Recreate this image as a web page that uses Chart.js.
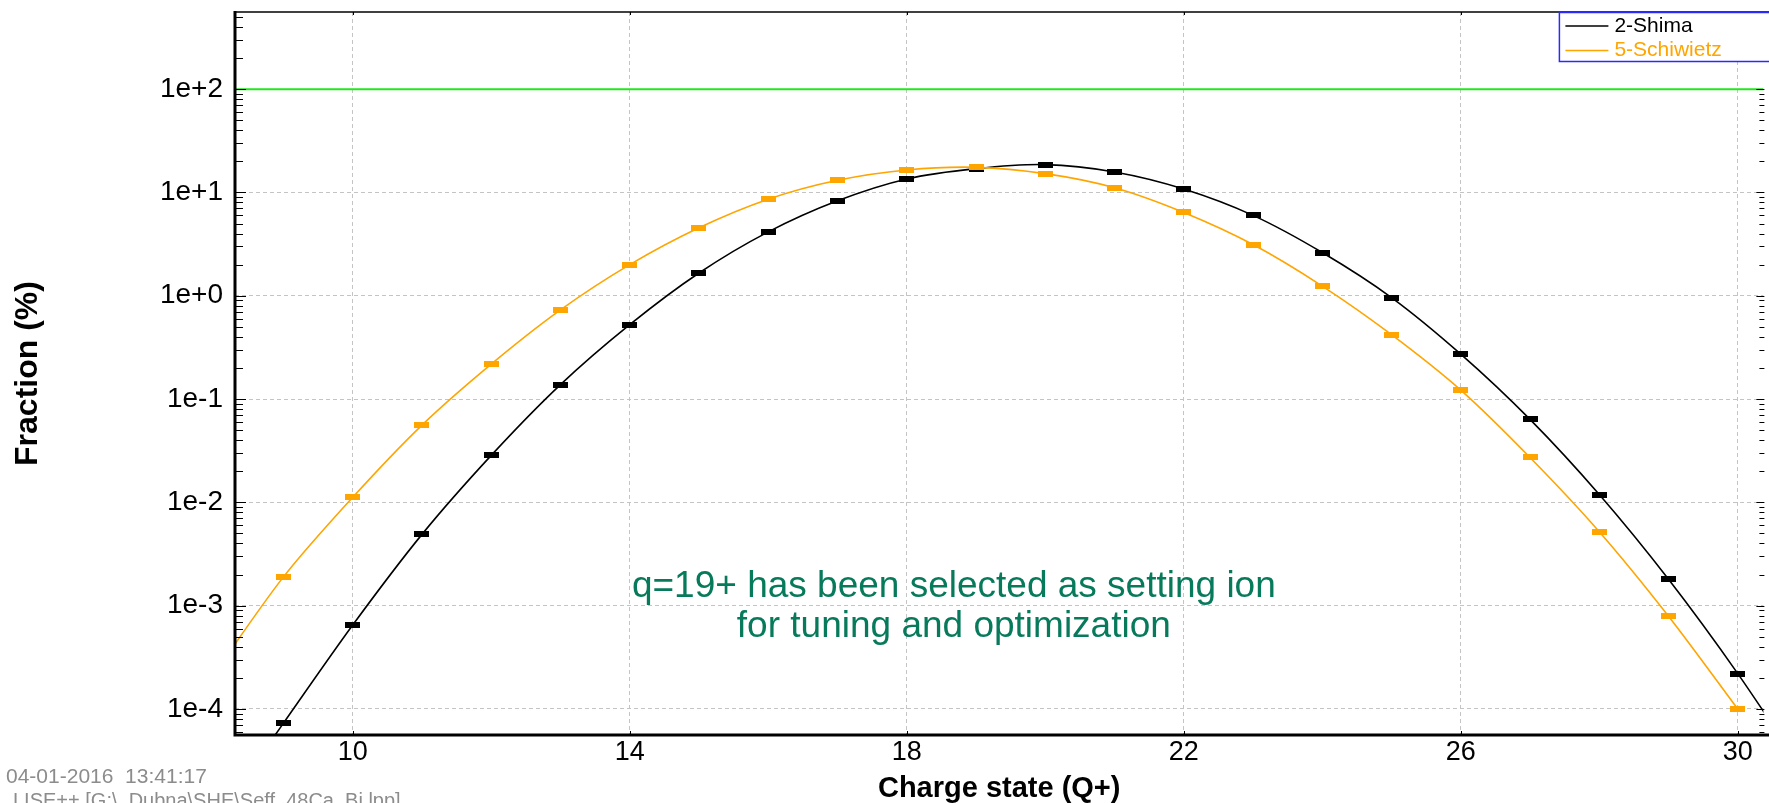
<!DOCTYPE html>
<html>
<head>
<meta charset="utf-8">
<title>Charge state distribution</title>
<script src="https://cdn.jsdelivr.net/npm/chart.js@4.4.1/dist/chart.umd.min.js"></script>
<style>
  html, body { margin: 0; padding: 0; background: #fff; }
  #wrap { position: relative; width: 1769px; height: 803px; }
</style>
</head>
<body>
<div id="wrap"><canvas id="chart"></canvas></div>
<script>
/* ---- data -------------------------------------------------------- */
const chargeStates      = [8, 9, 10, 11, 12, 13, 14, 15, 16, 17, 18, 19,
                           20, 21, 22, 23, 24, 25, 26, 27, 28, 29, 30, 31];
const shimaFraction     = [8e-6, 7.3e-5, 6.5e-4, 4.9e-3, 2.85e-2, 0.138, 0.525, 1.66,
                           4.15, 8.3, 13.5, 17.0, 18.6, 15.8, 10.8, 6.0,
                           2.62, 0.96, 0.272, 0.0635, 0.0119, 1.8e-3, 2.2e-4, 2.2e-5];
const schiwietzFraction = [2.2e-4, 1.9e-3, 1.12e-2, 0.056, 0.218, 0.73, 2.0, 4.55,
                           8.6, 13.1, 16.5, 17.5, 15.2, 11.1, 6.4, 3.13,
                           1.24, 0.42, 0.122, 0.0272, 5.2e-3, 7.9e-4, 1.0e-4, null];
const seriesNames       = ["2-Shima", "5-Schiwietz"];
const referenceLevel    = 100;

const xTickValues = [10, 14, 18, 22, 26, 30];
const yTickValues = [1e-4, 1e-3, 1e-2, 1e-1, 1e0, 1e1, 1e2];
const yTickLabels = ["1e-4", "1e-3", "1e-2", "1e-1", "1e+0", "1e+1", "1e+2"];

const noteLines  = ["q=19+ has been selected as setting ion", "for tuning and optimization"];
const noteAnchor = { q: 18.68, fraction: 1.22e-3 };
const stampLines = ["04-01-2016  13:41:17", "LISE++ [G:\\_Dubna\\SHE\\Seff_48Ca_Bi.lpp]"];

/* ---- look --------------------------------------------------------- */
const FONT     = "'Liberation Sans', Arial, sans-serif";
const C_SHIMA  = "#000000";
const C_SCHIW  = "#ffa500";
const C_LEVEL  = "#22e622";
const C_GRID   = "#c4c4c4";
const C_NOTE   = "#087a5c";
const X_MIN = 8.30, X_MAX = 30.37;
const Y_MIN = 5.6e-5, Y_MAX = 558;

/* flat rectangular markers like the original program draws */
function marker(color) {
  const c = document.createElement("canvas");
  c.width = 15; c.height = 6;
  const g = c.getContext("2d");
  g.fillStyle = color;
  g.fillRect(0, 0, 15, 6);
  return c;
}

function points(values) {
  return chargeStates.map((q, i) => ({ x: q, y: values[i] }));
}

/* ---- frame, inner ticks, legend box and notes --------------------- */
const decorPlugin = {
  id: "decor",
  afterDatasetsDraw(chart) {
    const { ctx, chartArea: a, scales: { x, y } } = chart;
    ctx.save();
    ctx.strokeStyle = "#000";
    ctx.lineWidth = 1;
    ctx.beginPath();
    for (let d = -5; d <= 2; d++) {
      for (let m = 1; m <= 9; m++) {
        const v = m * Math.pow(10, d);
        if (v < Y_MIN || v > Y_MAX) continue;
        const py = Math.round(y.getPixelForValue(v)) + 0.5;
        ctx.moveTo(a.left, py);  ctx.lineTo(a.left + (m === 1 ? 11 : 8), py);
        ctx.moveTo(a.right + 1, py); ctx.lineTo(a.right + 1 - (m === 1 ? 8 : 5), py);
      }
    }
    xTickValues.forEach((v) => {
      const px = Math.round(x.getPixelForValue(v)) + 0.5;
      ctx.moveTo(px, a.top);    ctx.lineTo(px, a.top + 3);
      ctx.moveTo(px, a.bottom); ctx.lineTo(px, a.bottom - 4);
    });
    ctx.stroke();

    ctx.lineWidth = 1.6;
    ctx.beginPath();
    ctx.moveTo(a.left, a.top); ctx.lineTo(chart.width, a.top);
    ctx.stroke();

    ctx.lineWidth = 3;
    ctx.beginPath();
    ctx.moveTo(a.left, a.top - 1); ctx.lineTo(a.left, a.bottom);
    ctx.lineTo(chart.width, a.bottom);
    ctx.stroke();
    ctx.restore();
  },
  afterDraw(chart) {
    const { ctx, chartArea: a, scales: { x, y } } = chart;
    ctx.save();

    /* legend box, top right, cut by the right edge like the original */
    const bx = a.right - 204, by = a.top + 0.5, bh = 49;
    ctx.fillStyle = "#fff";
    ctx.fillRect(bx, by, 220, bh);
    ctx.strokeStyle = "#2a2aff";
    ctx.lineWidth = 1.5;
    ctx.strokeRect(bx, by, 220, bh);
    ctx.font = `21px ${FONT}`;
    ctx.textBaseline = "middle";
    ctx.textAlign = "left";
    chart.data.datasets.filter((ds) => seriesNames.includes(ds.label)).forEach((ds) => {
      const row = seriesNames.indexOf(ds.label);
      const ly = by + 13.5 + row * 24.5;
      ctx.strokeStyle = ds.borderColor;
      ctx.lineWidth = 1.5;
      ctx.beginPath();
      ctx.moveTo(bx + 6, ly); ctx.lineTo(bx + 49, ly);
      ctx.stroke();
      ctx.fillStyle = ds.borderColor;
      ctx.fillText(ds.label, bx + 55, ly);
    });

    /* note in the plot */
    ctx.fillStyle = C_NOTE;
    ctx.font = `37px ${FONT}`;
    ctx.textAlign = "center";
    ctx.textBaseline = "alphabetic";
    const nx = x.getPixelForValue(noteAnchor.q);
    const ny = y.getPixelForValue(noteAnchor.fraction);
    noteLines.forEach((t, i) => ctx.fillText(t, nx, ny + i * 40));

    /* program stamp, bottom left */
    ctx.fillStyle = "#8c8c8c";
    ctx.font = `21px ${FONT}`;
    ctx.textAlign = "left";
    ctx.fillText(stampLines[0], 6, 783);
    ctx.font = `20px ${FONT}`;
    ctx.fillText(stampLines[1], 13, 807);
    ctx.restore();
  },
};

/* ---- chart -------------------------------------------------------- */
new Chart(document.getElementById("chart"), {
  type: "line",
  data: {
    datasets: [
      {
        label: seriesNames[1],
        data: points(schiwietzFraction),
        borderColor: C_SCHIW, borderWidth: 1.6, tension: 0.3,
        pointStyle: marker(C_SCHIW), pointRadius: 4,
        order: 0, clip: 0,
      },
      {
        label: seriesNames[0],
        data: points(shimaFraction),
        borderColor: C_SHIMA, borderWidth: 1.6, tension: 0.3,
        pointStyle: marker(C_SHIMA), pointRadius: 4,
        order: 1, clip: 0,
      },
      {
        label: "level",
        data: [{ x: X_MIN, y: referenceLevel }, { x: X_MAX, y: referenceLevel }],
        borderColor: C_LEVEL, borderWidth: 2, pointRadius: 0,
        order: 2, clip: 0,
      },
    ],
  },
  options: {
    responsive: true,
    maintainAspectRatio: false,
    animation: false,
    devicePixelRatio: 1,
    layout: { padding: { top: 12, right: 1, left: 0, bottom: 0 } },
    plugins: { legend: { display: false }, tooltip: { enabled: false } },
    scales: {
      x: {
        type: "linear", min: X_MIN, max: X_MAX,
        afterBuildTicks: (s) => { s.ticks = xTickValues.map((v) => ({ value: v })); },
        afterFit: (s) => { s.height = 68; s.paddingLeft = 0; s.paddingRight = 0; },
        ticks: {
          color: "#000", padding: 1, maxRotation: 0, autoSkip: false,
          font: { family: FONT, size: 27, lineHeight: 1.2 },
          callback: (v) => String(v),
        },
        grid: { color: C_GRID, lineWidth: 1, drawTicks: false },
        border: { display: false, dash: [4, 3] },
        title: {
          display: true, text: "Charge state (Q+)", color: "#000",
          font: { family: FONT, size: 29, weight: "bold", lineHeight: 1 },
          padding: { top: 0, bottom: 0 },
        },
      },
      y: {
        type: "logarithmic", min: Y_MIN, max: Y_MAX,
        afterBuildTicks: (s) => { s.ticks = yTickValues.map((v) => ({ value: v })); },
        afterFit: (s) => { s.width = 235; s.paddingTop = 0; s.paddingBottom = 0; },
        ticks: {
          color: "#000", padding: 12, autoSkip: false,
          font: { family: FONT, size: 28 },
          callback: (v) => yTickLabels[yTickValues.indexOf(v)] ?? "",
        },
        grid: { color: C_GRID, lineWidth: 1, drawTicks: false },
        border: { display: false, dash: [4, 3] },
        title: {
          display: true, text: "Fraction (%)", color: "#000",
          font: { family: FONT, size: 32, weight: "bold", lineHeight: 1.2 },
          padding: { top: 9, bottom: 0 },
        },
      },
    },
  },
  plugins: [decorPlugin],
});
</script>
</body>
</html>
